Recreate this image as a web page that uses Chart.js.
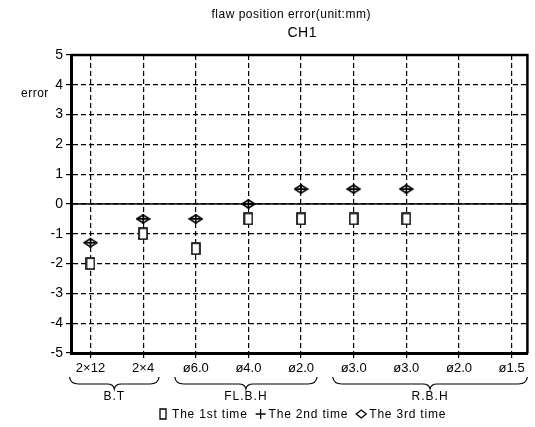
<!DOCTYPE html>
<html>
<head>
<meta charset="utf-8">
<script src="https://cdn.jsdelivr.net/npm/chart.js@4/dist/chart.umd.min.js"></script>
<style>
  html, body { margin: 0; padding: 0; background: #fff; }
  #wrap { width: 535px; height: 427px; position: relative; }
</style>
</head>
<body>
<div id="wrap"><canvas id="c"></canvas></div>
<script>
/* flaw position error chart — CH1 */
const FONT = "Liberation Sans, Arial, sans-serif";
const INK = "#000";

const TITLE = "flaw position error(unit:mm)";
const SUBTITLE = "CH1";
const Y_LABEL = "error";

const categories = ["2×12", "2×4", "ø6.0", "ø4.0", "ø2.0", "ø3.0", "ø3.0", "ø2.0", "ø1.5"];
const firstTime  = [-2, -1, -1.5, -0.5, -0.5, -0.5, -0.5, null, null];
const secondTime = [-1.3, -0.5, -0.5, 0, 0.5, 0.5, 0.5, null, null];
const thirdTime  = [-1.3, -0.5, -0.5, 0, 0.5, 0.5, 0.5, null, null];
const seriesNames = ["The 1st time", "The 2nd time", "The 3rd time"];
const groupNames = ["B.T", "FL.B.H", "R.B.H"];
const groupFrom  = [0, 2, 5];
const groupTo    = [1, 4, 8];

const toPts = (arr) => arr.map((v, i) => ({ x: i, y: v }));

// small canvas markers: tall box and flattened diamond
function marker(w, h, draw) {
  const c = document.createElement("canvas");
  c.width = w; c.height = h;
  const g = c.getContext("2d");
  g.strokeStyle = INK; g.fillStyle = "#fff"; g.lineWidth = 1.6;
  draw(g, w, h);
  return c;
}
const boxMark = marker(10, 13, (g, w, h) => {
  g.fillRect(1, 1, w - 2, h - 2); g.strokeRect(1, 1, w - 2, h - 2);
});
const diaMark = marker(15, 10, (g, w, h) => {
  g.beginPath();
  g.moveTo(1, h / 2); g.lineTo(w / 2, 1); g.lineTo(w - 1, h / 2); g.lineTo(w / 2, h - 1);
  g.closePath(); g.stroke();
});

function ds(label, arr, style, r) {
  return {
    label, data: toPts(arr), showLine: false,
    pointStyle: style, pointRadius: r, pointHoverRadius: r,
    borderColor: INK, backgroundColor: "#fff", pointBorderWidth: 1.6,
  };
}

/* ---------- decorations: titles, frame, braces, legend ---------- */
const deco = {
  id: "deco",
  beforeDatasetsDraw(chart) {
    const { ctx, chartArea: a, scales: { y } } = chart;
    const y0 = y.getPixelForValue(0);
    ctx.save();
    ctx.strokeStyle = INK; ctx.lineWidth = 1.3;
    ctx.beginPath(); ctx.moveTo(a.left, y0); ctx.lineTo(a.right, y0); ctx.stroke();
    ctx.restore();
  },
  afterDraw(chart) {
    const { ctx, chartArea: a, scales: { x } } = chart;
    const cx = (a.left + a.right) / 2;
    ctx.save();
    ctx.fillStyle = INK; ctx.strokeStyle = INK;
    ctx.textAlign = "center"; ctx.textBaseline = "middle";
    ctx.letterSpacing = "0.5px";
    ctx.font = `12px ${FONT}`;
    ctx.fillText(TITLE, cx - 8, 15);
    ctx.font = `14px ${FONT}`;
    ctx.fillText(SUBTITLE, cx + 3, 33);

    ctx.textAlign = "left";
    ctx.font = `12px ${FONT}`;
    ctx.fillText(Y_LABEL, 21, 94);

    // frame top/right
    ctx.lineWidth = 2.5;
    ctx.beginPath();
    ctx.moveTo(a.left, a.top); ctx.lineTo(a.right, a.top); ctx.lineTo(a.right, a.bottom);
    ctx.stroke();

    // group braces
    ctx.lineWidth = 1.2;
    ctx.textAlign = "center";
    ctx.font = `12px ${FONT}`;
    ctx.letterSpacing = "1px";
    const top = 377, mid = 384, bot = 389;
    groupNames.forEach((g, i) => {
      const x1 = x.getPixelForValue(groupFrom[i]) - 21;
      const x2 = Math.min(x.getPixelForValue(groupTo[i]) + 16, a.right);
      const m = (x1 + x2) / 2;
      ctx.beginPath();
      ctx.moveTo(x1, top);
      ctx.quadraticCurveTo(x1 + 1, mid, x1 + 9, mid);
      ctx.lineTo(m - 7, mid);
      ctx.quadraticCurveTo(m - 1, mid, m, bot);
      ctx.quadraticCurveTo(m + 1, mid, m + 7, mid);
      ctx.lineTo(x2 - 9, mid);
      ctx.quadraticCurveTo(x2 - 1, mid, x2, top);
      ctx.stroke();
      ctx.fillText(g, m, 397);
    });

    // legend
    ctx.textAlign = "left";
    ctx.font = `12px ${FONT}`;
    ctx.letterSpacing = "0.8px";
    const ly = 414;
    let lx = 160;
    seriesNames.forEach((name, i) => {
      ctx.lineWidth = 1.3;
      ctx.beginPath();
      if (i === 0) {
        ctx.rect(lx, ly - 5, 6, 10);
      } else if (i === 1) {
        ctx.moveTo(lx - 1, ly); ctx.lineTo(lx + 9, ly);
        ctx.moveTo(lx + 4, ly - 5); ctx.lineTo(lx + 4, ly + 5);
      } else {
        ctx.moveTo(lx - 1, ly); ctx.lineTo(lx + 4, ly - 4);
        ctx.lineTo(lx + 9, ly); ctx.lineTo(lx + 4, ly + 4); ctx.closePath();
      }
      ctx.stroke();
      ctx.fillText(name, lx + 12, ly + 1);
      lx += 12 + ctx.measureText(name).width + 9;
    });
    ctx.restore();
  },
};

new Chart(document.getElementById("c"), {
  type: "scatter",
  data: {
    datasets: [
      ds(seriesNames[0], firstTime, boxMark, 6),
      ds(seriesNames[1], secondTime, "cross", 5),
      ds(seriesNames[2], thirdTime, diaMark, 6),
    ],
  },
  options: {
    responsive: true, maintainAspectRatio: false, animation: false,
    layout: { padding: { top: 55, right: 3, left: 0, bottom: 0 } },
    plugins: { legend: { display: false }, tooltip: { enabled: false } },
    scales: {
      x: {
        type: "linear", min: -0.37, max: 8.3,
        afterBuildTicks: (s) => { s.ticks = categories.map((_, i) => ({ value: i })); },
        afterFit: (s) => { s.height = 74; },
        ticks: {
          color: INK, padding: 3, maxRotation: 0, autoSkip: false,
          font: { family: FONT, size: 13 },
          callback: (v) => categories[v] ?? "",
        },
        grid: { color: INK, lineWidth: 1.2, tickLength: 5 },
        border: { color: INK, width: 3, dash: [5, 3] },
      },
      y: {
        min: -5, max: 5,
        afterFit: (s) => { s.width = 71; },
        ticks: { stepSize: 1, color: INK, padding: 3, font: { family: FONT, size: 14 } },
        grid: { color: INK, lineWidth: 1.2, tickLength: 5 },
        border: { color: INK, width: 3, dash: [5, 3] },
      },
    },
  },
  plugins: [deco],
});
</script>
</body>
</html>
